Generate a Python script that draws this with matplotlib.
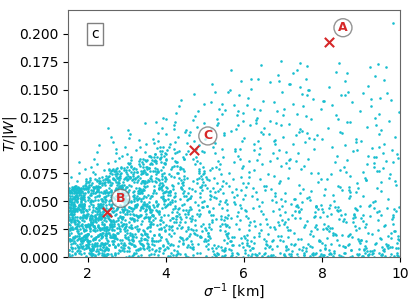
import numpy as np
import matplotlib
matplotlib.use('Agg')
import matplotlib.pyplot as plt

# inverse width sigma^-1 in units of 0.01 km, T/|W| in units of 0.001
# (read off the picture strip by strip, 0.5 km wide)
inv_sigma_x100 = [
    # 1.5 - 2.0
    152,187,163,171,195,158,179,166,190,154,183,169,176,161,198,157,172,185,150,193,
    165,180,159,174,188,153,167,196,177,162,184,156,191,170,160,181,173,194,155,168,
    189,151,178,164,197,175,182,158,186,161,192,170,154,179,166,199,157,184,173,163,
    190,152,176,168,195,181,159,187,171,162,178,150,193,165,185,156,174,197,169,183,
    160,188,153,177,191,167,180,155,196,172,164,186,151,175,194,158,182,170,189,163,
    178,153,166,192,157,185,174,199,161,180,
    # 2.0 - 2.5
    204,231,216,245,209,238,222,201,247,227,213,240,219,234,206,249,224,211,242,229,
    202,236,218,244,208,226,239,214,200,233,221,246,210,237,225,203,243,217,230,212,
    248,220,235,207,241,228,215,232,205,244,223,238,211,226,249,201,219,236,213,242,
    229,206,247,216,233,222,203,240,210,227,245,218,235,207,224,241,200,231,214,248,
    220,237,209,228,243,215,202,234,225,246,212,239,205,221,232,217,244,208,230,223,
    238,204,247,213,226,219,241,210,235,228,
    # 2.5 - 3.0
    253,281,267,294,258,275,289,262,298,271,256,285,264,292,277,251,283,269,296,260,
    287,273,255,290,266,279,252,295,270,284,259,276,293,263,280,250,288,268,297,257,
    274,291,261,282,254,278,299,265,286,272,258,293,269,250,281,263,295,276,254,288,
    271,260,284,267,297,252,279,290,256,273,286,262,299,275,265,282,251,292,270,259,
    285,277,294,253,268,289,261,280,296,257,274,283,264,291,272,255,287,266,298,278,
    260,293,269,284,251,276,288,263,297,271,
    # 3.0 - 3.5
    303,331,317,345,308,324,339,312,348,320,306,335,314,342,327,301,333,319,346,310,
    337,323,305,340,316,329,302,344,321,334,309,326,343,313,330,300,338,318,347,307,
    325,341,311,332,304,328,349,315,336,322,308,343,319,300,331,313,345,326,304,338,
    321,310,334,317,347,302,329,340,306,323,336,312,349,325,315,332,301,342,320,309,
    335,327,344,303,318,339,311,330,346,307,324,333,314,341,322,305,337,316,348,328,
    # 3.5 - 4.0
    354,382,368,396,359,375,390,363,399,372,357,386,365,393,378,351,384,370,397,361,
    388,374,356,391,367,380,353,395,371,385,360,377,394,364,381,350,389,369,398,358,
    376,392,362,383,355,379,400,366,387,373,352,394,370,357,385,363,398,377,354,390,
    371,360,383,367,396,351,379,388,356,374,
    391,362,399,376,365,382,353,393,369,358,386,378,395,352,380,389,361,373,397,366,
    # 4.0 - 4.5
    403,431,417,445,408,424,439,412,448,420,406,435,414,442,427,401,433,419,446,410,
    437,423,405,440,416,429,402,444,421,434,409,426,443,413,430,400,438,418,447,407,
    425,441,411,432,404,428,449,415,436,422,408,443,419,401,431,413,445,426,404,438,
    421,410,434,417,447,402,429,440,406,423,436,412,449,425,415,432,401,442,420,409,
    # 4.5 - 5.0
    452,481,466,494,457,474,489,462,498,470,455,485,463,492,477,450,483,468,496,460,
    487,473,454,490,465,479,451,495,471,484,459,476,493,464,480,453,488,469,497,458,
    475,491,461,482,456,478,499,467,486,472,
    458,493,469,451,481,463,495,476,454,488,471,460,484,467,497,452,479,490,456,474,
    # 5.0 - 5.5
    503,531,517,545,508,524,539,512,548,520,506,535,514,542,527,501,533,519,546,510,
    537,523,505,540,516,529,502,544,521,534,509,526,543,513,530,500,538,518,547,507,
    525,541,511,532,504,528,549,515,536,522,508,543,519,531,514,
    # 5.5 - 6.0
    553,581,567,595,558,574,589,562,598,570,556,585,564,592,577,551,583,569,596,560,
    587,573,555,590,566,579,552,594,571,584,559,576,593,563,580,550,588,568,597,557,
    575,591,561,582,554,578,599,565,586,572,
    # 6.0 - 6.5
    603,631,617,645,608,624,639,612,648,620,606,635,614,642,627,601,633,619,646,610,
    637,623,605,640,616,629,602,644,621,634,609,626,643,613,630,600,638,618,647,607,
    625,641,611,632,604,
    # 6.5 - 7.0
    653,681,667,695,658,674,689,662,698,670,656,685,664,692,677,651,683,669,696,660,
    687,673,655,690,666,679,652,694,671,684,659,676,693,663,680,650,688,668,697,657,
    675,691,
    # 7.0 - 7.5
    703,731,717,745,708,724,739,712,748,720,706,735,714,742,727,701,733,719,746,710,
    737,723,705,740,716,729,702,744,721,734,709,726,743,713,730,700,738,718,747,707,
    # 7.5 - 8.0
    758,797,769,788,753,780,764,793,776,759,784,771,795,751,779,765,790,754,773,787,
    760,796,768,783,750,777,792,763,785,755,770,798,762,789,774,757,794,766,781,752,
    # 8.0 - 8.5
    803,831,817,845,808,824,839,812,848,820,806,835,814,842,827,801,833,819,846,810,
    837,823,805,840,816,829,802,844,821,834,809,826,843,813,830,800,838,818,847,807,
    # 8.5 - 9.0
    857,897,868,888,850,880,863,893,876,859,884,871,894,852,879,866,890,855,873,887,
    860,896,869,883,851,877,892,864,885,856,870,898,862,889,874,858,895,867,881,853,
    # 9.0 - 9.5
    903,931,917,945,908,924,939,912,948,920,906,935,914,942,927,901,933,919,946,910,
    937,923,905,940,916,929,902,944,921,934,909,926,943,913,930,900,938,918,947,907,
    # 9.5 - 10.0
    957,997,968,988,950,980,963,993,976,959,982,971,994,952,979,966,990,955,973,987,
    960,996,969,983,951,977,992,964,985,956,970,998,962,989,974,958,995,967,981,953,
    982,
    # points sitting on the floor
    412,437,456,471,489,503,518,534,552,567,583,598,611,628,646,659,674,692,705,721,
    738,753,769,784,797,812,829,843,858,873,889,904,918,933,947,962,978,991,426,545,
    # dense core 1.5 - 2.5
    151,178,203,166,229,187,244,158,212,195,237,172,221,154,199,248,183,207,161,233,
    192,226,155,241,176,214,168,201,249,185,157,219,236,173,206,189,243,162,227,197,
    209,153,181,238,164,223,196,246,171,215,159,204,231,184,150,242,177,218,193,225,
    167,234,188,210,156,247,179,202,228,163,191,240,174,216,152,198,235,182,208,169,
    245,186,220,160,200,232,175,213,154,239,194,165,226,205,180,248,157,222,190,211,
    173,236,197,150,217,183,243,162,206,230,188,169,201,247,158,214,192,228,176,241,
    203,159,225,186,244,170,212,195,152,233,178,219,164,207,249,181,227,155,198,238,
    161,218,190,240,174,204,156,231,185,246,168,210,193,151,223,179,237,200,166,215,
    229,182,153,208,245,171,196,221,160,234,187,213,175,242,157,199,226,184,209,163,
    194,247,167,216,180,235,158,202,224,189,150,239,172,211,197,156,230,176,243,205,
    155,220,186,231,165,198,241,177,209,152,227,191,217,168,246,183,204,160,236,195,
    214,170,243,192,157,224,184,207,236,162,196,249,174,212,188,230,153,201,179,222,
    182,232,161,199,218,150,245,189,206,171,238,164,215,193,228,176,154,241,203,186,
    240,167,210,178,226,196,159,233,185,248,169,219,202,157,235,190,212,163,227,174,
    197,225,154,244,181,208,172,237,161,220,189,151,230,205,179,246,166,214,185,232,
    # dense core 2.5 - 3.5
    253,289,312,271,338,296,264,325,347,281,258,304,333,276,319,250,292,341,267,308,
    285,330,261,315,298,349,273,306,254,337,290,321,268,344,279,301,256,327,294,336,
    312,266,343,287,252,318,299,275,334,260,309,282,346,271,324,293,257,339,305,278,
    345,297,259,322,284,311,269,340,291,251,328,302,274,316,263,348,286,307,255,331,
    270,314,295,336,258,283,326,306,265,342,277,319,253,300,289,332,262,347,310,280,
    323,256,301,279,344,267,317,290,250,335,308,273,326,296,259,341,284,313,269,339,
    294,338,263,308,286,327,252,346,275,311,298,260,333,282,320,266,303,349,278,315,
    257,320,287,349,272,303,336,261,297,324,283,343,255,310,268,330,291,317,251,304,
    340,278,313,254,329,292,268,307,345,285,316,262,299,338,274,251,326,289,343,265,
    301,265,331,293,318,255,342,281,305,270,348,294,258,323,287,335,276,309,296,262,
    # dense core 3.5 - 4.8
    352,397,421,368,446,384,412,359,433,391,475,364,405,449,377,426,355,418,462,388,
    438,371,410,356,456,393,427,380,468,403,362,441,387,415,351,470,399,430,374,452,
    409,360,444,385,423,366,478,398,436,357,414,392,459,372,428,401,365,447,381,419,
    371,432,356,406,390,464,417,377,443,353,425,396,458,368,411,383,437,361,473,402,
    445,386,420,363,455,399,375,431,407,350,466,389,416,370,440,395,358,424,382,451,
    394,458,373,413,354,435,400,467,378,422,386,448,363,409,476,391,428,367,442,405,
    361,418,389,447,372,404,430,357,461,396,415,380,439,366,454,398,425,352,434,376,
    429,375,451,396,363,411,479,384,420,369,445,402,359,437,388,463,413,373,426,393,
    # lower part 4.8 - 5.6
    483,517,549,496,531,505,558,488,522,541,492,510,554,500,536,486,527,513,545,495,
    520,490,538,507,552,484,515,529,498,546,511,534,489,557,503,524,493,541,518,508,
    501,544,481,526,512,556,497,533,487,519,550,506,539,494,523,548,485,514,530,499,
    # scattered tail 5.5 - 10.0
    562,847,713,938,605,781,996,674,859,728,587,913,642,805,971,695,758,884,621,743,
    819,596,932,677,765,548,893,714,980,636,852,703,577,948,789,661,906,740,825,599,
    684,957,613,871,735,806,559,922,668,793,987,627,749,864,705,575,941,812,690,771,
    901,651,778,553,834,716,963,608,886,742,679,815,594,952,727,860,638,918,763,985,
    571,797,688,925,617,841,734,994,656,878,709,583,947,774,829,644,905,721,862,603,
    753,916,632,809,568,890,697,968,745,613,836,785,927,664,551,873,719,998,641,802,
    868,592,741,955,680,821,626,897,769,545,934,707,853,619,977,748,667,912,586,831,
    627,982,795,701,858,574,943,676,817,732,899,611,766,958,689,843,556,924,736,872,
    945,703,566,887,752,639,966,824,597,781,715,909,652,848,579,990,694,772,933,618,
    785,634,910,747,599,856,973,670,803,559,928,716,839,627,888,756,602,959,683,814,
    607,869,729,992,648,776,551,896,823,692,937,585,761,879,654,915,738,803,569,951,
    716,951,589,828,681,937,762,614,875,799,554,906,671,842,730,984,623,867,706,779,
    # more of the dense core 1.5 - 4.0
    157,284,213,361,176,245,330,198,267,389,163,302,228,355,186,271,240,318,152,394,
    233,169,347,258,191,376,217,292,155,338,205,263,382,178,314,244,161,297,224,369,
    307,194,276,159,351,221,385,248,172,326,286,209,154,366,237,183,343,259,201,311,
    166,398,232,289,181,319,253,157,372,210,341,268,190,296,226,358,175,303,242,160,
    353,215,180,335,262,153,296,203,383,238,171,320,255,392,196,279,164,348,219,287,
    188,271,364,227,158,309,246,193,340,277,165,231,387,212,294,150,357,262,205,329,
    259,160,323,197,374,242,173,281,218,360,156,312,239,185,345,274,208,395,168,250,
    321,236,171,393,214,266,183,349,229,301,195,257,162,378,234,316,186,272,351,200,
    174,345,254,211,287,163,368,230,179,305,249,379,193,265,151,332,220,290,241,356,
    226,292,150,318,243,386,199,275,337,167,223,298,354,181,260,207,373,154,310,269,
    383,187,301,258,165,331,217,362,247,190,283,152,344,236,176,397,222,278,195,315,
    202,260,342,172,296,225,158,390,268,326,209,184,365,244,303,169,285,229,353,161,
    280,154,371,235,196,349,261,177,313,204,389,251,165,327,218,288,152,341,255,191,
    167,319,221,282,151,367,238,195,302,173,348,227,280,160,391,211,336,263,184,297,
    249,376,183,313,223,169,350,288,206,258,156,384,232,307,191,266,359,214,173,333,
]

tw_x1000 = [
    # 1.5 - 2.0
    3,41,18,55,27,9,60,33,47,14,22,51,6,38,29,58,11,44,25,62,
    17,35,2,49,57,20,31,8,43,13,53,39,24,61,5,46,28,16,59,36,
    10,52,21,40,1,30,56,15,48,34,7,26,45,19,63,37,12,54,23,42,
    4,50,32,64,0,57,15,38,27,48,9,66,20,44,33,59,5,70,13,29,
    52,18,41,75,24,8,36,55,11,68,31,46,2,22,79,40,14,58,26,35,
    85,6,49,19,72,30,43,16,61,25,
    # 2.0 - 2.5
    12,48,27,65,5,39,58,21,44,3,33,69,16,52,29,8,61,37,24,55,
    14,46,1,67,31,19,57,42,10,35,63,23,50,6,40,28,54,17,45,2,
    60,32,13,49,26,68,9,38,56,20,43,4,30,64,15,51,36,22,59,11,
    47,25,7,62,34,18,53,41,0,28,57,13,45,71,24,36,9,66,50,19,
    74,31,5,44,78,16,39,58,83,26,12,48,69,35,21,88,54,7,42,94,
    30,63,17,76,46,2,59,81,38,100,
    # 2.5 - 3.0
    7,52,31,70,18,44,63,25,58,2,39,75,14,49,66,22,36,9,61,47,
    28,73,11,55,40,4,68,33,19,57,77,26,45,1,64,37,15,53,71,29,
    42,8,60,23,50,35,76,12,46,67,20,56,3,38,72,27,48,16,62,34,
    10,54,74,24,43,6,59,30,78,17,51,41,0,65,21,37,57,13,69,32,
    80,45,5,84,28,61,18,89,52,39,93,25,70,11,97,48,35,103,63,22,
    108,42,86,15,116,55,91,30,99,74,
    # 3.0 - 3.5
    9,57,34,78,20,46,68,27,63,3,41,82,15,53,72,24,38,11,66,49,
    30,79,13,59,43,6,74,35,21,61,84,28,48,1,69,39,17,56,76,31,
    45,8,64,25,52,37,81,14,50,71,22,60,4,40,86,19,55,33,70,12,
    47,26,88,58,16,92,36,75,5,96,44,29,101,62,18,105,51,83,10,110,
    42,67,23,114,54,32,90,7,120,65,38,99,26,77,46,107,59,15,94,73,
    # 3.5 - 4.0
    12,61,37,84,23,50,74,30,68,5,45,89,17,57,79,26,41,14,71,53,
    33,86,9,64,47,2,81,38,20,66,91,29,52,7,76,43,18,60,83,35,
    49,11,70,25,56,40,88,15,54,77,21,65,3,44,95,31,58,98,10,73,
    102,27,62,106,48,19,111,36,80,6,
    116,55,24,121,42,69,8,125,59,32,99,46,75,13,104,63,28,92,51,87,
    # 4.0 - 4.5
    14,66,40,90,25,55,80,33,73,6,48,95,19,61,85,29,44,11,77,58,
    36,93,8,69,51,3,87,42,22,71,99,31,57,12,82,46,17,64,88,38,
    103,27,59,108,9,75,112,35,52,118,21,67,2,124,43,79,15,129,62,34,
    97,49,135,24,70,110,5,141,56,86,18,101,39,121,65,10,92,47,115,28,
    # 4.5 - 5.0
    16,70,43,95,27,59,84,35,77,7,51,100,21,65,90,31,47,12,81,62,
    39,104,9,73,55,4,92,45,24,75,109,33,60,14,86,114,19,68,120,40,
    126,28,53,131,11,97,137,37,79,146,
    57,23,88,1,66,112,30,49,102,18,123,42,71,8,94,36,117,63,25,83,
    # 5.0 - 5.5
    10,66,38,97,22,54,83,30,111,5,46,120,17,74,102,26,59,8,90,41,
    133,3,70,50,115,34,14,128,62,86,19,148,44,78,1,106,28,155,57,12,
    93,37,69,124,24,81,6,139,48,99,15,64,33,118,52,
    # 5.5 - 6.0
    8,61,35,104,19,49,88,27,122,4,42,131,14,72,97,23,56,2,80,38,
    145,11,66,47,113,30,6,158,58,91,17,136,44,75,0,109,25,168,52,13,
    85,33,64,127,21,95,9,150,40,70,
    # 6.0 - 6.5
    6,58,31,112,15,44,92,24,140,3,37,125,10,70,101,19,52,1,83,35,
    160,8,63,46,118,28,4,172,55,87,13,133,41,76,2,107,22,151,49,11,
    96,30,66,120,17,
    # 6.5 - 7.0
    4,55,27,118,12,41,96,21,148,2,34,131,9,68,104,16,49,1,82,30,
    163,7,60,43,122,25,3,176,51,89,11,139,38,74,0,110,19,157,46,14,
    93,29,
    # 7.0 - 7.5
    3,52,24,115,10,38,93,18,146,1,31,128,7,65,101,14,46,0,79,27,
    168,5,57,40,119,22,2,174,48,86,9,137,35,71,12,108,16,155,43,6,
    # 7.5 - 8.0
    5,47,21,109,2,36,88,15,142,8,29,124,1,61,97,12,43,4,75,25,
    160,6,54,37,113,19,0,171,45,82,10,133,32,67,3,103,14,150,40,9,
    # 8.0 - 8.5
    2,50,23,112,7,39,91,17,145,4,30,127,0,64,99,13,45,6,78,26,
    166,3,56,41,116,20,1,174,47,85,11,136,34,70,5,106,15,152,42,8,
    # 8.5 - 9.0
    4,46,20,106,1,35,87,16,139,9,28,121,3,60,95,11,42,0,73,24,
    158,7,53,38,111,18,2,165,44,81,12,131,31,66,6,100,14,148,39,10,
    # 9.0 - 9.5
    1,49,22,110,6,37,90,14,143,3,32,125,8,62,98,15,44,2,77,27,
    162,5,55,40,117,21,0,173,46,84,10,135,33,69,4,104,13,153,41,7,
    # 9.5 - 10.0
    6,45,19,108,2,34,86,13,141,5,30,122,1,59,96,10,41,3,74,23,
    159,8,52,36,114,17,4,170,43,80,11,130,29,65,0,101,16,147,38,9,
    210,
    # points sitting on the floor
    1,3,0,2,4,1,0,3,2,1,4,0,2,3,1,0,2,4,1,3,
    0,2,1,4,3,0,1,2,4,0,3,1,2,0,4,1,3,2,0,1,
    # dense core 1.5 - 2.5
    23,47,8,61,35,14,52,39,3,28,66,19,44,57,11,32,50,6,41,25,
    37,5,58,29,16,63,42,21,70,9,48,34,13,55,26,45,2,38,60,18,
    51,30,12,44,57,7,36,22,64,15,49,27,40,3,59,33,17,54,24,10,
    43,20,62,31,1,47,56,14,35,25,52,9,41,28,60,19,37,46,4,30,
    12,53,26,39,58,21,45,8,34,50,16,63,27,6,42,55,31,18,48,2,
    57,36,11,49,24,40,3,61,29,15,52,33,67,20,44,7,38,56,23,12,
    46,27,59,17,35,51,10,42,62,24,4,37,53,30,13,48,20,58,39,26,
    8,41,54,22,33,65,15,47,28,1,58,19,36,50,11,43,25,61,32,6,
    63,14,45,38,7,56,24,31,52,17,40,3,60,27,49,21,35,10,57,44,
    29,51,18,62,5,34,47,13,39,55,22,9,43,30,64,16,26,53,1,37,
    50,23,36,7,59,14,41,28,56,20,33,61,11,46,25,52,4,39,18,68,
    31,57,2,44,26,13,49,35,19,62,8,27,54,40,15,58,36,21,47,5,
    17,39,60,28,51,22,6,43,33,55,12,48,24,65,37,9,42,30,14,53,
    45,4,34,57,19,38,63,10,52,27,41,16,59,32,48,23,7,46,29,36,
    20,55,42,13,61,3,30,50,25,38,15,57,44,35,8,21,53,28,59,11,
    # dense core 2.5 - 3.5
    35,61,12,48,77,23,54,6,41,69,29,16,57,80,38,3,65,44,19,72,
    9,52,31,74,17,46,62,27,58,2,40,70,14,49,33,81,22,55,11,66,
    44,18,68,36,7,59,28,75,13,51,39,63,21,4,47,78,30,57,15,71,
    60,26,45,10,73,34,52,20,67,42,1,56,32,79,24,48,64,8,37,53,
    17,69,39,58,27,5,76,45,33,61,12,50,72,22,43,14,66,36,82,28,
    53,11,63,30,47,70,19,41,58,8,35,77,25,55,3,68,40,16,60,46,
    25,74,48,13,62,37,56,21,71,44,30,65,7,51,34,79,18,42,67,2,
    67,32,6,54,39,73,15,59,27,47,64,10,43,76,20,57,36,70,24,49,
    12,58,35,79,23,50,41,1,66,31,55,18,72,38,61,14,48,29,75,44,
    42,20,62,8,52,34,68,26,45,77,16,57,33,4,63,37,22,71,50,28,
    # dense core 3.5 - 4.8
    48,7,72,33,88,21,59,40,14,66,29,83,52,3,76,37,18,61,45,92,
    26,64,11,80,39,55,2,70,34,47,90,17,62,28,74,9,51,85,42,23,
    58,36,79,15,44,68,24,93,31,6,73,53,19,86,40,63,12,48,77,35,
    20,75,46,1,60,32,89,41,13,67,50,27,95,38,56,8,81,43,22,70,
    65,30,54,84,17,45,71,4,58,36,25,78,49,11,63,91,34,57,5,42,
    10,52,87,27,69,39,16,61,47,82,33,55,3,74,21,44,94,30,66,13,
    77,43,18,59,35,96,26,68,9,50,81,14,62,38,71,23,46,87,29,57,
    37,84,55,6,73,48,20,65,31,90,12,59,42,79,25,53,4,68,34,99,
    # lower part 4.8 - 5.6
    12,55,33,74,4,46,21,63,38,9,70,27,51,16,79,42,2,59,30,67,
    44,18,61,7,36,77,25,53,14,68,40,3,57,29,72,11,49,34,80,22,
    65,6,39,58,19,48,75,10,54,31,1,62,24,45,71,15,37,56,8,50,
    # scattered tail 5.5 - 10.0
    7,63,24,118,41,3,89,15,145,52,11,30,98,2,71,19,126,36,8,57,
    44,13,81,27,150,5,62,34,9,104,20,133,48,17,75,1,38,112,26,66,
    10,93,29,55,3,140,22,47,86,14,68,32,6,121,40,18,77,25,158,59,
    35,116,2,49,21,80,12,136,43,7,101,28,60,16,165,39,4,91,53,23,
    11,70,31,142,6,45,109,19,64,1,84,37,128,9,56,24,147,12,76,42,
    27,5,123,61,14,96,33,8,152,72,20,46,3,110,30,58,88,15,132,40,
    63,17,41,2,105,26,78,13,51,137,6,94,32,160,22,49,10,69,118,4,
    18,85,36,127,9,54,24,73,3,41,15,143,107,28,66,11,35,170,47,21,
    99,30,6,58,135,19,44,12,82,27,155,4,64,38,115,8,52,23,90,14,
    46,2,71,16,129,34,9,61,25,148,5,87,42,13,103,29,56,7,120,37,
    20,60,11,92,39,4,132,26,74,15,50,3,111,31,8,83,45,140,18,67,
    3,38,97,22,57,12,145,86,6,43,28,76,14,124,35,1,62,19,50,106,
    # more of the dense core 1.5 - 4.0
    22,71,45,83,9,58,36,62,17,90,41,5,66,27,53,38,12,76,48,31,
    7,55,68,33,46,14,63,80,29,52,3,74,40,59,21,49,36,11,69,86,
    60,18,43,57,79,34,8,70,25,47,13,65,51,38,2,61,24,56,30,81,
    39,72,26,65,16,44,3,58,92,50,11,77,32,20,61,49,63,84,42,8,
    15,57,47,71,28,6,53,67,39,19,60,33,73,4,42,62,54,87,12,35,
    64,20,55,41,33,72,9,50,85,62,14,68,26,37,47,56,2,78,23,59,
    45,61,18,37,74,66,50,6,57,30,24,87,40,13,64,79,48,58,3,70,
    27,52,43,81,60,12,58,39,71,49,29,65,17,90,35,73,8,55,46,63,
    52,16,69,35,58,44,77,4,62,83,25,48,57,71,38,60,10,42,66,91,
    48,30,59,67,5,88,41,74,21,53,63,78,36,60,45,14,80,26,50,9,
    62,35,70,51,47,83,28,40,73,19,56,33,7,65,58,84,44,11,66,39,
    54,37,81,62,18,68,49,95,30,76,60,42,14,70,58,26,81,39,64,55,
    66,53,45,20,61,74,58,31,12,43,85,67,59,51,70,36,16,88,25,48,
    19,80,64,47,41,57,72,35,69,60,22,51,77,8,70,66,45,14,62,55,
    3,67,52,41,59,62,86,50,34,75,44,20,63,78,56,32,71,47,15,61,
]

event_names = ['A', 'B', 'C']
event_sigma = [8.18, 2.49, 4.72]
event_tw = [0.193, 0.040, 0.096]

x = np.array(inv_sigma_x100) / 100.0
y = np.array(tw_x1000) / 1000.0
assert len(x) == len(y)

fig = plt.figure(figsize=(4.15, 3.01), dpi=100)
ax = fig.add_axes([0.164, 0.146, 0.800, 0.821])

ax.scatter(x, y, s=3.5, color='#17becf', linewidths=0, zorder=2)
ax.scatter(event_sigma, event_tw, marker='x', s=45, color='#d62728',
           linewidths=1.5, zorder=4)
for name, sx, ty in zip(event_names, event_sigma, event_tw):
    ax.annotate(name, (sx, ty), xytext=(14, 14), textcoords='offset pixels',
                ha='center', va='center', fontsize=9, fontweight='bold',
                color='#d62728', zorder=5,
                bbox=dict(boxstyle='circle,pad=0.2', fc='white', alpha=0.7,
                          ec='0.4', lw=1))

ax.text(0.081, 0.903, 'c', transform=ax.transAxes, ha='center', va='center',
        fontsize=10, zorder=5,
        bbox=dict(boxstyle='square,pad=0.3', fc='white', ec='0.5', lw=1))

ax.set_xlim(1.5, 10)
ax.set_ylim(0, 0.2215)
ax.set_xticks([2, 4, 6, 8, 10])
ax.set_yticks(np.arange(0, 0.201, 0.025))
ax.yaxis.set_major_formatter(matplotlib.ticker.FormatStrFormatter('%.3f'))
ax.tick_params(labelsize=10)
for sp in ax.spines.values():
    sp.set_color('0.4')
ax.set_xlabel(r'$\sigma^{-1}$ [km]', fontsize=10, labelpad=0)
ax.set_ylabel(r'$T/|W|$', fontsize=10, labelpad=0)

fig.savefig('out.png', dpi=100)
